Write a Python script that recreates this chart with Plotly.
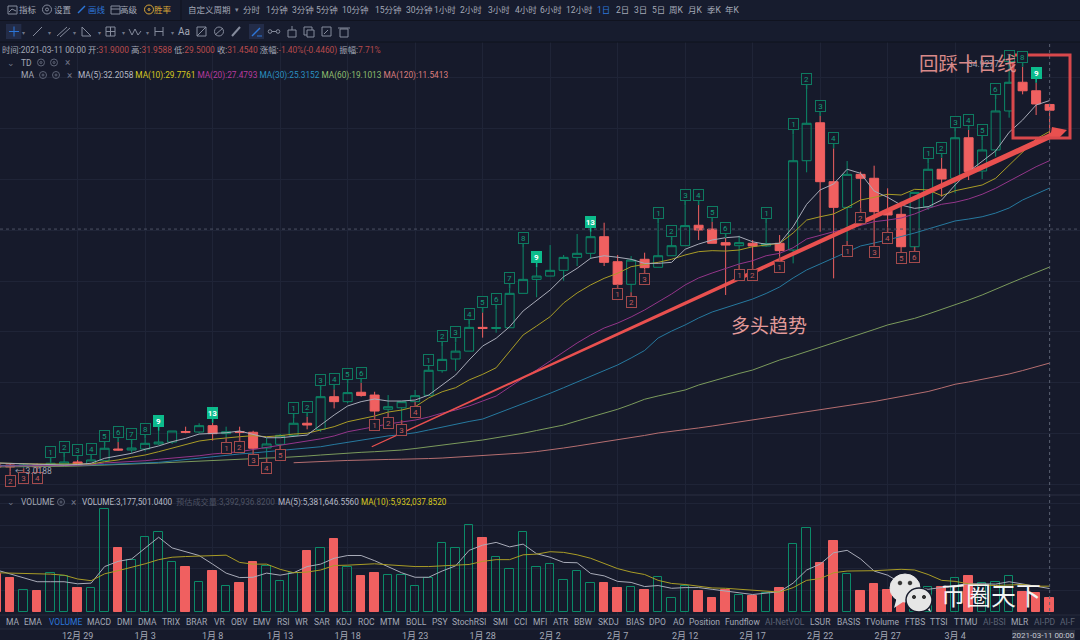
import pandas as pd
import plotly.graph_objects as go

# daily bars 2020-12-23 .. 2021-03-11
days = pd.date_range("2020-12-23", periods=79)

opens = [3.51, 3.51, 3.39, 3.51, 3.43, 3.59, 3.75, 3.51, 3.85, 4.77,
         4.69, 4.77, 5.17, 5.32, 6.15, 6.11, 6.61, 5.98, 6.15, 6.09,
         4.85, 5.14, 5.85, 6.80, 6.32, 8.89, 8.50, 9.24, 9.02, 7.90,
         8.02, 8.50, 9.00, 10.94, 11.86, 12.48, 14.35, 14.26, 14.32, 17.03,
         18.13, 18.39, 18.84, 19.86, 20.18, 21.49, 19.52, 17.74, 19.71, 19.08,
         19.99, 20.78, 22.39, 22.09, 21.02, 20.78, 20.97, 20.76, 20.97, 20.44,
         27.47, 30.46, 25.82, 23.80, 26.40, 26.09, 23.54, 23.25, 20.70, 23.85,
         26.80, 26.09, 29.28, 26.66, 28.32, 31.39, 33.65, 32.98, 31.90]
highs = [3.67, 3.59, 3.63, 3.63, 3.71, 4.14, 3.91, 3.95, 5.01, 5.32,
         5.17, 5.59, 6.21, 6.19, 6.53, 6.80, 6.84, 6.53, 6.53, 6.21,
         5.64, 5.95, 7.21, 7.31, 9.42, 9.47, 9.93, 9.99, 9.28, 9.02,
         8.50, 9.42, 10.97, 12.88, 13.17, 14.61, 15.53, 15.79, 17.42, 20.62,
         19.08, 20.83, 20.05, 21.70, 21.88, 22.59, 20.05, 19.97, 20.23, 22.54,
         21.17, 23.98, 23.98, 22.67, 21.39, 21.57, 21.23, 22.57, 21.62, 29.55,
         33.12, 31.00, 28.45, 27.45, 26.61, 27.08, 25.30, 24.24, 24.98, 27.27,
         27.71, 29.76, 29.89, 29.10, 32.33, 34.93, 34.87, 33.61, 31.96]
lows = [3.20, 3.02, 3.26, 3.28, 3.39, 3.55, 3.47, 3.47, 3.83, 4.65,
        4.46, 4.57, 5.09, 5.17, 6.01, 6.01, 5.43, 5.64, 5.74, 4.69,
        4.06, 5.09, 5.72, 6.32, 6.13, 7.97, 8.37, 8.89, 7.45, 7.61,
        7.05, 8.50, 8.95, 10.78, 10.94, 12.48, 13.54, 13.93, 14.32, 17.03,
        16.72, 18.39, 18.02, 19.18, 19.73, 19.18, 17.74, 17.11, 18.91, 19.08,
        19.99, 20.78, 21.23, 20.97, 16.90, 19.26, 19.26, 20.70, 19.91, 19.39,
        26.56, 21.88, 18.21, 21.15, 23.73, 21.09, 22.20, 20.60, 20.70, 23.59,
        24.64, 24.91, 25.95, 26.03, 27.79, 30.86, 32.70, 31.07, 29.50]
closes = [3.36, 3.36, 3.51, 3.36, 3.65, 3.75, 3.51, 3.91, 4.83, 4.69,
          4.85, 5.22, 5.32, 6.19, 6.09, 6.61, 5.98, 6.13, 6.09, 4.83,
          5.17, 5.85, 6.80, 6.66, 8.89, 8.50, 9.21, 8.98, 7.76, 8.10,
          8.50, 8.97, 10.97, 11.83, 12.48, 14.35, 14.27, 14.34, 17.03, 18.13,
          18.39, 18.84, 19.86, 20.18, 21.49, 19.47, 17.74, 19.65, 19.05, 19.99,
          20.78, 22.36, 22.02, 20.97, 20.83, 21.02, 20.76, 20.95, 20.39, 27.47,
          30.42, 25.82, 23.80, 26.40, 26.09, 23.46, 23.20, 20.70, 24.98, 26.80,
          26.03, 29.28, 26.61, 28.32, 31.39, 33.65, 32.98, 31.94, 31.45]

ma5 = [3.67, 3.63, 3.59, 3.55, 3.51, 3.51, 3.55, 3.65, 4.04, 4.22,
       4.43, 4.75, 5.01, 5.35, 5.61, 5.95, 6.01, 6.05, 6.19, 5.95,
       5.66, 5.66, 5.74, 5.87, 6.66, 7.45, 8.16, 8.50, 8.71, 8.55,
       8.55, 8.63, 9.02, 9.81, 10.60, 11.78, 12.88, 13.49, 14.40, 15.64,
       16.45, 17.29, 18.34, 19.00, 19.79, 19.99, 19.87, 19.71, 19.39, 19.39,
       19.47, 20.50, 20.91, 21.23, 21.41, 21.49, 21.09, 20.89, 20.97, 22.28,
       24.04, 25.17, 25.64, 26.80, 26.48, 25.09, 24.59, 23.98, 23.72, 23.85,
       24.38, 25.56, 26.61, 27.39, 28.24, 29.71, 30.68, 31.86, 32.21]
ma10 = [3.67, 3.63, 3.59, 3.59, 3.59, 3.59, 3.59, 3.59, 3.77, 3.91,
        4.12, 4.30, 4.56, 4.83, 5.09, 5.40, 5.54, 5.66, 5.74, 5.82,
        5.74, 5.82, 5.95, 6.01, 6.27, 6.53, 6.92, 7.13, 7.37, 7.68,
        7.84, 8.10, 8.79, 9.28, 9.60, 10.21, 10.65, 11.17, 12.43, 13.75,
        14.46, 15.19, 16.27, 17.06, 17.69, 18.21, 18.61, 19.13, 19.31, 19.47,
        19.71, 20.05, 20.31, 20.39, 20.36, 20.44, 20.70, 20.83, 20.97, 21.78,
        22.80, 23.06, 23.28, 23.80, 24.38, 24.59, 24.83, 24.77, 25.22, 25.17,
        24.72, 25.11, 25.35, 25.56, 26.09, 27.13, 28.18, 29.18, 29.78]
ma20 = [3.43, 3.43, 3.43, 3.43, 3.45, 3.47, 3.51, 3.53, 3.67, 3.72,
        3.77, 3.85, 3.96, 4.04, 4.12, 4.24, 4.38, 4.48, 4.56, 4.73,
        4.90, 5.03, 5.25, 5.40, 5.57, 5.80, 6.13, 6.33, 6.54, 6.74,
        6.90, 7.05, 7.29, 7.60, 7.84, 8.16, 8.55, 8.94, 9.65, 10.36,
        10.99, 11.70, 12.41, 13.12, 13.75, 14.30, 14.69, 15.17, 15.72, 16.35,
        16.98, 17.69, 18.24, 18.63, 19.00, 19.34, 19.60, 19.99, 20.18, 20.62,
        21.31, 21.62, 21.88, 22.09, 22.41, 22.67, 22.80, 22.96, 23.28, 23.72,
        24.04, 24.20, 24.46, 24.83, 25.30, 25.87, 26.48, 27.00, 27.48]
ma30 = [3.47, 3.47, 3.47, 3.47, 3.49, 3.49, 3.50, 3.51, 3.55, 3.59,
        3.65, 3.67, 3.72, 3.83, 3.95, 4.06, 4.18, 4.30, 4.38, 4.46,
        4.56, 4.61, 4.73, 4.85, 4.95, 5.13, 5.30, 5.48, 5.64, 5.80,
        5.91, 6.05, 6.27, 6.50, 6.74, 6.94, 7.13, 7.53, 7.92, 8.31,
        8.73, 9.16, 9.60, 10.05, 10.48, 10.91, 11.39, 11.94, 12.53, 13.51,
        14.06, 14.54, 15.09, 15.56, 15.91, 16.27, 16.58, 17.02, 17.53, 18.24,
        18.87, 19.34, 19.81, 20.28, 20.76, 20.99, 21.23, 21.50, 21.78, 22.09,
        22.41, 22.73, 22.88, 23.06, 23.35, 23.75, 24.38, 24.85, 25.32]
ma60 = [3.36, 3.36, 3.36, 3.38, 3.39, 3.41, 3.43, 3.46, 3.51, 3.55,
        3.59, 3.63, 3.67, 3.72, 3.77, 3.83, 3.91, 3.95, 3.98, 4.02,
        4.06, 4.09, 4.14, 4.22, 4.30, 4.38, 4.46, 4.51, 4.56, 4.61,
        4.69, 4.81, 4.93, 5.06, 5.20, 5.35, 5.48, 5.64, 5.82, 6.01,
        6.23, 6.45, 6.66, 6.98, 7.29, 7.61, 7.90, 8.28, 8.69, 8.95,
        9.18, 9.42, 9.81, 10.13, 10.44, 10.72, 10.99, 11.39, 11.78, 12.09,
        12.43, 12.80, 13.12, 13.47, 13.83, 14.18, 14.54, 14.81, 15.06, 15.40,
        15.76, 16.11, 16.50, 16.90, 17.37, 17.80, 18.24, 18.67, 19.10]
ma120 = [None] * 22 + [3.69, 3.72, 3.77, 3.83, 3.87, 3.91, 3.93, 3.95,
         3.97, 3.98, 4.02, 4.06, 4.13, 4.18, 4.22, 4.30, 4.38, 4.46,
         4.57, 4.69, 4.85, 5.01, 5.17, 5.32, 5.48, 5.68, 5.84, 6.03,
         6.15, 6.27, 6.43, 6.58, 6.74, 6.90, 7.05, 7.21, 7.37, 7.53,
         7.69, 7.84, 8.00, 8.16, 8.31, 8.51, 8.71, 8.91, 9.10, 9.30,
         9.58, 9.87, 10.05, 10.25, 10.44, 10.68, 10.95, 11.23, 11.54]

# volume in millions
volumes = [8.64, 7.84, 5.04, 4.88, 8.96, 8.24, 5.52, 5.52, 23.84, 14.88,
           11.92, 17.36, 18.56, 11.60, 10.32, 6.96, 9.36, 6.08, 6.64, 11.60,
           10.56, 7.04, 9.04, 14.08, 14.72, 16.88, 10.32, 8.24, 9.04, 8.56,
           8.56, 5.92, 7.92, 16.00, 14.72, 20.00, 17.20, 12.80, 10.00, 18.48,
           10.48, 10.96, 7.28, 9.44, 6.56, 6.64, 5.52, 5.84, 5.04, 8.00,
           3.20, 6.08, 4.72, 3.28, 4.96, 3.92, 3.60, 4.24, 5.52, 15.68,
           19.44, 11.36, 16.40, 8.72, 4.72, 6.32, 5.04, 4.24, 5.84, 5.84,
           5.84, 7.92, 8.40, 6.64, 6.80, 8.24, 4.56, 4.24, 3.18]
vol_ma5 = [9.68, 8.80, 7.92, 6.96, 6.96, 6.96, 6.48, 6.64, 10.48, 11.68,
           12.24, 14.80, 17.28, 14.80, 14.00, 13.04, 11.04, 8.96, 7.92, 8.00,
           8.96, 8.48, 9.04, 10.48, 11.04, 12.40, 13.04, 13.04, 11.84, 10.48,
           9.04, 8.00, 8.00, 9.44, 10.64, 14.24, 15.44, 16.08, 15.04, 15.68,
           13.44, 12.64, 11.44, 11.36, 8.88, 8.32, 7.04, 6.80, 5.84, 6.08,
           5.44, 5.60, 5.60, 5.20, 4.88, 4.40, 4.00, 4.24, 4.64, 6.64,
           9.68, 11.04, 13.68, 14.24, 12.24, 9.44, 8.48, 6.64, 5.60, 5.20,
           5.60, 6.00, 6.48, 6.48, 6.40, 6.96, 6.48, 5.84, 5.38]
vol_ma10 = [9.04, 8.96, 8.96, 8.88, 8.72, 8.48, 7.60, 7.20, 8.80, 9.52,
            10.24, 11.12, 12.08, 12.64, 12.80, 12.88, 13.12, 13.12, 11.44, 11.04,
            11.04, 9.84, 9.04, 9.20, 9.68, 10.72, 10.80, 11.04, 11.12, 10.88,
            10.64, 10.48, 10.48, 10.64, 10.64, 10.96, 11.68, 12.08, 12.08, 13.20,
            13.36, 13.92, 13.76, 13.20, 12.40, 11.28, 10.00, 9.20, 8.64, 7.28,
            6.56, 6.32, 6.00, 5.52, 5.44, 5.20, 4.88, 4.64, 4.56, 5.60,
            7.28, 7.68, 9.04, 9.44, 9.44, 9.52, 9.68, 9.84, 9.68, 8.64,
            7.28, 7.04, 6.48, 6.16, 6.08, 6.16, 6.32, 5.92, 5.93]

# TD sequential counts, index into days
td_top_idx = [4, 5, 6, 7, 8, 9, 10, 11, 12, 16, 22, 23, 24, 25, 26, 27, 32, 33, 34, 35, 36, 37, 38, 39, 40, 44,
              49, 50, 51, 52, 53, 54, 57, 59, 60, 61, 62, 69, 70, 71, 72, 73, 74, 75, 76, 77]
td_top_txt = ["1", "2", "3", "4", "5", "6", "7", "8", "9", "13", "1", "2", "3", "4", "5", "6", "1", "2", "3", "4", "5", "6", "7", "8", "9", "13",
              "1", "2", "3", "4", "5", "6", "1", "1", "2", "3", "4", "1", "2", "3", "4", "5", "6", "7", "8", "9"]
td_bot_idx = [0, 1, 2, 3, 17, 18, 19, 20, 21, 28, 29, 30, 31, 46, 47, 48, 55, 56, 58, 63, 64, 65, 66, 67, 68]
td_bot_txt = ["1", "2", "3", "4", "1", "2", "3", "4", "5", "1", "2", "3", "4", "1", "2", "3", "1", "2", "1", "1", "2", "3", "4", "5", "6"]

tick_days = ["2020-12-29", "2021-01-03", "2021-01-08", "2021-01-13", "2021-01-18", "2021-01-23", "2021-01-28", "2021-02-02",
             "2021-02-07", "2021-02-12", "2021-02-17", "2021-02-22", "2021-02-27", "2021-03-04"]
tick_text = ["12月 29", "1月 3", "1月 8", "1月 13", "1月 18", "1月 23", "1月 28", "2月 2",
             "2月 7", "2月 12", "2月 17", "2月 22", "2月 27", "3月 4"]

top_menu = [(27.6, "指标"), (63, "设置"), (96.5, "画线"), (129, "高级"), (163, "胜率"), (209.6, "自定义周期"), (252, "分时"),
            (276.5, "1分钟"), (302.5, "3分钟"), (326.5, "5分钟"), (355, "10分钟"), (388, "15分钟"), (419, "30分钟"),
            (445, "1小时"), (470.7, "2小时"), (499, "3小时"), (526, "4小时"), (551, "6小时"), (579.7, "12小时"),
            (603.8, "1日"), (622, "2日"), (640, "3日"), (658, "5日"), (676.5, "周K"), (695, "月K"), (714, "季K"), (732, "年K")]
indicator_tabs = [(12, "MA"), (33.4, "EMA"), (65, "VOLUME"), (99, "MACD"), (124, "DMI"), (147.6, "DMA"), (171.7, "TRIX"),
                  (197, "BRAR"), (219, "VR"), (239, "OBV"), (262, "EMV"), (283, "RSI"), (301.7, "WR"), (322, "SAR"),
                  (344, "KDJ"), (366, "ROC"), (390, "MTM"), (416, "BOLL"), (440, "PSY"), (469, "StochRSI"), (500, "SMI"),
                  (520.7, "CCI"), (540, "MFI"), (560.7, "ATR"), (583.8, "BBW"), (608, "SKDJ"), (634.5, "BIAS"), (657, "DPO"),
                  (678, "AO"), (704.8, "Position"), (742.8, "Fundflow"), (784.8, "AI-NetVOL"), (820, "LSUR"), (848, "BASIS"),
                  (882, "TVolume"), (914.5, "FTBS"), (939, "TTSI"), (965, "TTMU"), (994, "AI-BSI"), (1020, "MLR"),
                  (1044.5, "AI-PD"), (1067.6, "AI-F")]

BG = "#161a2b"
BAR_BG = "#171c2e"
GRID = "#1f2437"
RED = "#f06060"
GREEN = "#0b8a68"
SOLID = "#0cbb8c"
TXT = "#a3a8b6"
ICON = "#858b9c"
NONE = "rgba(0,0,0,0)"
FONT = "Roboto, 'Noto Sans CJK SC', sans-serif"


def px(x):
    return x / 1080


def py(y):
    return 1 - y / 640


shapes = []
notes = []


def line(x0, y0, x1, y1, color=ICON, width=1, dash="solid"):
    shapes.append(dict(type="line", xref="paper", yref="paper", x0=px(x0), y0=py(y0), x1=px(x1), y1=py(y1),
                       line=dict(color=color, width=width, dash=dash), layer="above"))


def rect(x0, y0, x1, y1, fill=NONE, color=ICON, width=1):
    shapes.append(dict(type="rect", xref="paper", yref="paper", x0=px(x0), y0=py(y0), x1=px(x1), y1=py(y1),
                       fillcolor=fill, line=dict(color=color, width=width), layer="above"))


def circle(cx, cy, rx, ry=None, fill=NONE, color=ICON, width=1):
    ry = rx if ry is None else ry
    shapes.append(dict(type="circle", xref="paper", yref="paper", x0=px(cx - rx), y0=py(cy - ry), x1=px(cx + rx), y1=py(cy + ry),
                       fillcolor=fill, line=dict(color=color, width=width), layer="above"))


def poly(points, fill, color=NONE, width=0):
    path = "M " + " L ".join(f"{px(x):.5f},{py(y):.5f}" for x, y in points) + " Z"
    shapes.append(dict(type="path", xref="paper", yref="paper", path=path, fillcolor=fill,
                       line=dict(color=color, width=width), layer="above"))


def label(x, y, text, color=TXT, size=9, anchor="center", family=FONT):
    notes.append(dict(xref="paper", yref="paper", x=px(x), y=py(y), text=text, showarrow=False, xanchor=anchor,
                      yanchor="middle", font=dict(color=color, size=size, family=family)))


def run(color, text):
    return f'<span style="color:{color}">{text}</span>'


def td_mark(idx, text, price, above):
    solid = text in ("9", "13") and above
    edge = "#0e7a60" if above else "#a34a4c"
    notes.append(dict(x=days[idx], y=price, xref="x", yref="y", text=f"<b>{text}</b>" if solid else text, showarrow=True,
                      ax=0, ay=-10 if above else 10, arrowhead=0, arrowwidth=1.5, arrowcolor=SOLID if solid else edge, standoff=0,
                      bgcolor=SOLID if solid else BG, bordercolor=SOLID if solid else edge, borderwidth=1, borderpad=0,
                      width=9, height=10, font=dict(size=8, family=FONT, color="#ffffff" if solid else ("#149a78" if above else "#c05a5c"))))


fig = go.Figure()
fig.add_trace(go.Candlestick(x=days, open=opens, high=highs, low=lows, close=closes, xaxis="x", yaxis="y",
                             increasing=dict(line=dict(color=GREEN, width=1), fillcolor=NONE),
                             decreasing=dict(line=dict(color=RED, width=1), fillcolor=RED),
                             whiskerwidth=0, hoverinfo="skip"))
for values, color in [(ma120, "#b56e70"), (ma60, "#7b9a5c"), (ma30, "#26799f"), (ma20, "#94358a"), (ma10, "#a99c26"), (ma5, "#a8abb8")]:
    fig.add_trace(go.Scatter(x=days, y=values, mode="lines", line=dict(color=color, width=1), xaxis="x", yaxis="y", hoverinfo="skip"))

bar_fill = [RED if c < o else NONE for o, c in zip(opens, closes)]
bar_line = [RED if c < o else GREEN for o, c in zip(opens, closes)]
fig.add_trace(go.Bar(x=days, y=volumes, width=0.62 * 86400000, xaxis="x2", yaxis="y2", hoverinfo="skip",
                     marker=dict(color=bar_fill, line=dict(color=bar_line, width=1))))
fig.add_trace(go.Scatter(x=days, y=vol_ma5, mode="lines", line=dict(color="#a8abb8", width=1), xaxis="x2", yaxis="y2", hoverinfo="skip"))
fig.add_trace(go.Scatter(x=days, y=vol_ma10, mode="lines", line=dict(color="#a99c26", width=1), xaxis="x2", yaxis="y2", hoverinfo="skip"))

for idx, text in zip(td_top_idx, td_top_txt):
    td_mark(idx, text, highs[idx], True)
for idx, text in zip(td_bot_idx, td_bot_txt):
    td_mark(idx, text, lows[idx], False)

# crosshair
shapes.append(dict(type="line", xref="x", yref="paper", x0=days[-1], x1=days[-1], y0=py(629), y1=py(42),
                   line=dict(color="#5b6072", width=1, dash="3px,3px"), layer="above"))
shapes.append(dict(type="line", xref="paper", yref="y", x0=0, x1=1, y0=22.09, y1=22.09,
                   line=dict(color="#4d5264", width=1, dash="3px,3px"), layer="above"))

# toolbar background and separators
rect(0, 0, 1080, 42, fill=BAR_BG, color=NONE)
rect(0, 615, 1080, 629, fill=BAR_BG, color=NONE)
line(0, 20.5, 1080, 20.5, color="#10131f")
line(0, 42, 1080, 42, color="#0f121d")
line(0, 495, 1080, 495, color="#2a2f42")
line(0, 615, 1080, 615, color="#262b3c")
line(0, 629, 1080, 629, color="#262b3c")
line(181, 0, 181, 20, color="#10131f")

dim_tabs = ("AI-NetVOL", "AI-BSI", "AI-PD", "AI-F")
for x, text in top_menu:
    color = "#2c76d9" if text in ("画线", "1日") else "#d8a437" if text == "胜率" else TXT
    label(x, 9.5, text, color=color, size=8.5)
for x, text in indicator_tabs:
    color = "#2c76d9" if text == "VOLUME" else "#5c6274" if text in dim_tabs else TXT
    label(x, 622, text, color=color, size=8.5)
label(237, 9.5, "▾", color=ICON, size=7)

# top row icons
rect(8, 6, 17, 14)
line(9, 12, 12, 9)
line(12, 9, 16, 11)
circle(47, 9.5, 4.5)
circle(47, 9.5, 1.5)
line(78, 13, 85, 6, color="#2c76d9", width=1.5)
rect(111, 6, 120, 14)
line(111, 9, 120, 9)
circle(149, 9.5, 4.5, color="#d8a437")
circle(149, 9.5, 1, color="#d8a437")

# drawing tool icons
rect(6, 24, 21.4, 39, fill="#232c48", color=NONE)
line(9, 31.5, 19, 31.5, color="#2c76d9")
line(14, 26.5, 14, 36.5, color="#2c76d9")
line(33, 36, 42, 27)
line(57, 36, 67, 27)
line(60, 37, 70, 28)
poly([(82, 27), (82, 36), (91, 36)], NONE, ICON, 1)
rect(106, 27, 115, 36)
line(106, 31.5, 115, 31.5)
line(110.5, 27, 110.5, 36)
line(129, 29, 132, 35)
line(132, 35, 135, 29)
line(135, 29, 138, 35)
line(138, 35, 141, 31)
line(155, 27, 155, 36)
line(163, 27, 163, 36)
line(155, 31.5, 163, 31.5)
label(184, 31.5, "Aa", size=10)
rect(197, 27, 206, 36)
line(197, 36, 206, 27)
circle(219, 31.5, 4.5)
line(215, 35, 223, 28)
line(232, 36, 240, 27, width=2)
rect(249, 24, 264, 39, fill="#232c48", color=NONE)
line(252, 36, 260, 28, color="#2c76d9", width=1.5)
line(257, 36, 262, 36, color="#2c76d9")
circle(270, 31.5, 1.8)
circle(278, 31.5, 1.8)
line(271.8, 31.5, 276.2, 31.5)
rect(288, 30, 296, 37)
line(292, 26, 292, 30)
rect(304, 27, 312, 35)
rect(307, 30, 314, 37, fill=BAR_BG)
rect(322, 27, 331, 36)
line(324, 34, 328, 30)
rect(340, 29, 348, 37)
line(338, 28, 350, 28)
for x in (21.5, 47.5, 72.5, 97, 121, 145.5, 170):
    label(x + 2, 32, "▾", color="#6f7586", size=6)

# info rows
label(0, 50, run(TXT, "时间:2021-03-11 00:00 开:") + run("#b94a4c", "31.9000") + run(TXT, " 高:") + run("#b94a4c", "31.9588")
      + run(TXT, " 低:") + run("#b94a4c", "29.5000") + run(TXT, " 收:") + run("#b94a4c", "31.4540") + run(TXT, " 涨幅:")
      + run("#b94a4c", "-1.40%(-0.4460)") + run(TXT, " 振幅:") + run("#b94a4c", "7.71%"), size=8.4, anchor="left")
label(11, 62.5, "⌄", color="#6f7586", size=9)
label(26, 62.5, "TD", size=8.5)
label(27, 75, "MA", size=8.5)
for x, y in [(41, 62.5), (54, 62.5), (43, 75), (56, 75)]:
    circle(x, y, 3.5, color="#5c6274")
    circle(x, y, 1, color="#5c6274")
label(67, 62.5, "×", color="#6f7586", size=10)
label(69, 75, "×", color="#6f7586", size=10)
label(75.6, 75, run("#b5b9c6", "MA(5):32.2058") + " " + run("#d6c81f", "MA(10):29.7761") + " " + run("#b63a9e", "MA(20):27.4793") + " "
      + run("#2a8fc0", "MA(30):25.3152") + " " + run("#8fbd6e", "MA(60):19.1013") + " " + run("#dc7d7d", "MA(120):11.5413"),
      size=8.3, anchor="left")
label(11, 502, "⌄", color="#6f7586", size=9)
label(37, 502, "VOLUME", size=8.5)
circle(61, 502, 3.5, color="#5c6274")
circle(61, 502, 1, color="#5c6274")
label(73.5, 502, "×", color="#6f7586", size=10)
label(80, 502, "VOLUME:3,177,501.0400", color="#b5b9c6", size=8.2, anchor="left")
label(174, 502, "预估成交量:3,392,936.8200", color="#4e5364", size=8.2, anchor="left")
label(275.6, 502, "MA(5):5,381,646.5560", color="#b5b9c6", size=8.2, anchor="left")
label(359, 502, "MA(10):5,932,037.8520", color="#d6c81f", size=8.2, anchor="left")

# price labels on the chart
label(983, 64, "34.9277", color="#9da2b2", size=8.5)
label(13, 470.7, "← 3.0188", color="#9da2b2", size=8.5, anchor="left")

# hand drawn overlay
poly([(371.5, 446.2), (1051, 132.5), (1052, 127), (1067, 130), (1058, 139), (1054, 137.5), (372, 447.2)], "#e9504f")
rect(1013, 55, 1070, 138, color="#d9484c", width=3)
label(968, 63, "回踩十日线", color="#d98a8a", size=19.5, family="'Noto Sans CJK SC'")
label(768.5, 324, "多头趋势", color="#e29a9a", size=19, family="'Noto Sans CJK SC'")

# date tag and watermark
rect(1012, 630, 1075, 640, fill="#2b3040", color=NONE)
label(1043.5, 635.5, "2021-03-11 00:00", color="#c4c8d2", size=8)
poly([(897, 597), (894, 608), (906, 600)], "#e6e6e6")
circle(905, 588, 15, 14, fill="#e6e6e6", color="#e6e6e6")
circle(900, 583, 1.8, fill="#333", color="#333")
circle(910, 583, 1.8, fill="#333", color="#333")
poly([(925, 608), (931, 612), (928, 604)], "#e6e6e6")
circle(919, 600, 13, 12, fill="#e6e6e6", color=BG, width=1.5)
circle(914, 597, 1.6, fill="#333", color="#333")
circle(924, 597, 1.6, fill="#333", color="#333")
label(991, 594, "币圈天下", color="#f4f4f4", size=25, family="'Noto Sans CJK SC'")

fig.update_layout(
    width=1080, height=640, margin=dict(l=0, r=0, t=0, b=0),
    paper_bgcolor=BG, plot_bgcolor=BG, showlegend=False, barmode="overlay", bargap=0,
    boxgap=0.05, boxgroupgap=0.3,
    shapes=shapes, annotations=notes, hovermode=False,
    font=dict(family=FONT, color=TXT, size=9),
    xaxis=dict(domain=[0, 1], range=["2020-12-23 06:00", "2021-03-13 06:00"], anchor="y", matches="x2", showticklabels=False,
               tickvals=tick_days, showgrid=True, gridcolor=GRID, gridwidth=1, zeroline=False, rangeslider=dict(visible=False)),
    yaxis=dict(domain=[py(495), py(42)], range=[1.15, 36.82], tickvals=[2, 6, 10, 14, 18, 22, 26, 30, 34], showticklabels=False,
               showgrid=True, gridcolor=GRID, gridwidth=1, zeroline=False),
    xaxis2=dict(domain=[0, 1], anchor="y2", tickmode="array", tickvals=tick_days, ticktext=tick_text, ticks="", ticklabelposition="outside",
                tickfont=dict(size=9, color=TXT, family=FONT), showgrid=True, gridcolor=GRID, gridwidth=1, zeroline=False,
                rangeslider=dict(visible=False), range=["2020-12-23 06:00", "2021-03-13 06:00"]),
    yaxis2=dict(domain=[py(629), py(495)], range=[-4.0, 27.07], tickvals=[5, 10, 15, 20, 25], showticklabels=False,
                showgrid=True, gridcolor=GRID, gridwidth=1, zeroline=False),
)

fig.write_html("out.html", config=dict(displayModeBar=False), post_script="document.body.style.margin='0';")
